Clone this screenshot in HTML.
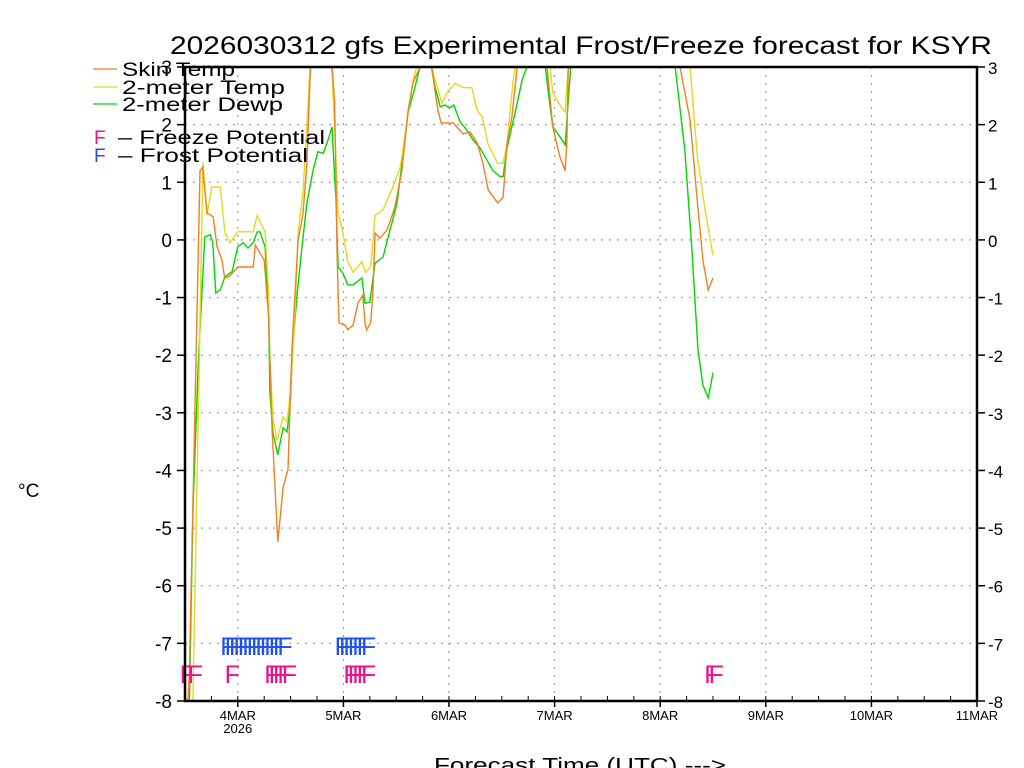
<!DOCTYPE html>
<html><head><meta charset="utf-8"><style>
html,body{margin:0;padding:0;background:#fff;}
svg{display:block;font-family:"Liberation Sans",sans-serif;}
</style></head><body>
<svg id="chart" width="1024" height="768">
<text x="170" y="54" font-size="25" textLength="822" lengthAdjust="spacingAndGlyphs">2026030312 gfs Experimental Frost/Freeze forecast for KSYR</text>
<g id="grid"></g>
<g id="series" clip-path="url(#plotclip)"></g>
<g id="markers"></g>
<g id="axes"></g>
<defs><clipPath id="plotclip"><rect x="185" y="67" width="792" height="634"/></clipPath></defs>
<g>
 <g><line x1="93" y1="69" x2="117" y2="69" stroke="#f08020" stroke-width="1.3"/><text x="122" y="76" font-size="19" textLength="113" lengthAdjust="spacingAndGlyphs">Skin Temp</text></g>
 <g><line x1="93" y1="87" x2="117" y2="87" stroke="#e6d820" stroke-width="1.3"/><text x="122" y="94" font-size="19" textLength="163" lengthAdjust="spacingAndGlyphs">2-meter Temp</text></g>
 <g><line x1="93" y1="104" x2="117" y2="104" stroke="#00d800" stroke-width="1.3"/><text x="122" y="111" font-size="19" textLength="161" lengthAdjust="spacingAndGlyphs">2-meter Dewp</text></g>
 <g><text x="94" y="144" font-size="19" fill="#f0108a">F</text><text x="118" y="144" font-size="19" textLength="207" lengthAdjust="spacingAndGlyphs">– Freeze Potential</text></g>
 <g><text x="94" y="162" font-size="19" fill="#2050f0">F</text><text x="118" y="162" font-size="19" textLength="190" lengthAdjust="spacingAndGlyphs">– Frost Potential</text></g>
</g>
<text x="18" y="497" font-size="19">°C</text>
<text x="434" y="772" font-size="20" textLength="292" lengthAdjust="spacingAndGlyphs">Forecast Time (UTC) ---&gt;</text>
</svg>
<script>
const yTicks=[3,2,1,0,-1,-2,-3,-4,-5,-6,-7,-8];
const dayLabels=["4MAR","5MAR","6MAR","7MAR","8MAR","9MAR","10MAR","11MAR"];
const dayHours=[12,36,60,84,108,132,156,180];
const skinH=[0,1,3.4,4,5,6.4,7.3,8.4,9,10,12,15.5,16,18,19,19.3,19.8,21.1,22.3,23.4,24.3,25.7,26.8,27.7,28.4,29,33,34,34.3,34.6,35,36.4,37,38.2,39.3,40.4,40.9,41.3,42.2,42.7,43.2,44.3,45.9,47.7,49.3,50.7,51.8,53.4,56.1,56.8,57.5,58.2,61,63.2,64.8,66.4,67.7,68.9,71.1,72.3,73.2,74.3,75.5,82.3,83,83.6,85.2,86.4,86.8,87.1,88,111,112.5,114.8,116.4,117.7,118.9,120];
const skinV=[-9,-7.5,1.2,1.26,0.47,0.4,-0.12,-0.35,-0.66,-0.64,-0.47,-0.47,-0.09,-0.35,-1.34,-2.1,-3.3,-5.24,-4.3,-3.98,-1.9,0,0.43,1.33,2.8,3.5,3.5,2.4,1.1,-0.35,-1.44,-1.48,-1.56,-1.48,-1.1,-0.96,-1.44,-1.56,-1.44,-0.92,0.12,0.03,0.17,0.57,1.2,2.25,2.72,3,3,2.6,2.25,2.03,2.03,1.84,1.87,1.68,1.33,0.87,0.64,0.74,1.68,2.13,3,3,2.43,1.96,1.44,1.2,1.73,2.95,3.5,3.5,3,2.08,0.69,-0.35,-0.87,-0.66];
const tempH=[0,1.8,4.1,5,6.1,8,9.1,10.2,12,15.5,16.4,18.2,19,19.3,20,20.9,22.3,23.2,23.9,25,25.7,26.8,27.7,28.4,29,33,34,34.8,35.9,37,38.2,40.2,41.1,42.2,43.2,45,47,48.9,50.5,51.8,53.4,56,58.4,59.5,61.4,63.2,65.2,66.4,67.6,68.9,71.1,72.3,73.2,74.5,75.5,82.3,83,83.6,85.2,86.4,87.1,88,112,114.8,116.4,118.2,120];
const tempV=[-9,-8,1.35,0.43,0.92,0.92,0.12,-0.05,0.14,0.14,0.42,0.14,-0.92,-2.08,-3.1,-3.47,-3.07,-3.16,-2.66,-1.27,0.12,0.81,1.96,3,3.5,3.5,1.96,0.47,0.12,-0.38,-0.56,-0.38,-0.56,-0.47,0.43,0.52,0.87,1.26,2.08,2.77,3.2,3,2.37,2.55,2.72,2.64,2.64,2.25,2.13,1.65,1.33,1.33,1.68,2.72,3.2,3.2,3,2.55,2.34,2.22,3,3.5,3.5,3,1.47,0.52,-0.27];
const dewH=[0,1,1.8,3,4.5,5.7,6.3,7,8,9.1,10.7,12,13.2,14.3,15.5,16.4,17,18.2,19,19.3,20,21.1,22.3,23.2,23.9,24.5,25.5,26.6,27.7,29.1,30.2,31.4,32.5,33.4,34,34.3,34.8,35.9,37,38.2,40.2,40.9,42,43.2,45,46.6,48.2,49.5,50.7,52.3,53.4,56,56.8,58,59.1,60.2,61.1,62.5,64,65.5,67,68.6,70,71.6,72.3,73.2,75.5,76.6,77.7,81.9,82.5,83.6,85.2,86.4,86.8,87.5,88,110,111.4,113.6,115.2,116.6,117.7,118.9,119.4,120];
const dewV=[-9,-8,-4.7,-2.17,0.05,0.09,-0.03,-0.92,-0.87,-0.64,-0.55,-0.12,-0.05,-0.14,-0.05,0.14,0.14,-0.12,-1.27,-2.66,-3.35,-3.73,-3.26,-3.33,-2.83,-1.86,-0.92,-0.12,0.64,1.2,1.53,1.5,1.73,1.96,1.1,0.74,-0.47,-0.58,-0.78,-0.78,-0.66,-1.1,-1.08,-0.4,-0.3,0.17,0.64,1.44,2.2,2.66,3,3,2.66,2.31,2.34,2.29,2.34,2.05,1.91,1.73,1.6,1.39,1.2,1.1,1.1,1.6,2.37,2.77,3,3,2.6,1.96,1.79,1.65,2.08,2.83,3.5,3.5,3,1.56,-0.17,-1.91,-2.52,-2.74,-2.55,-2.3];
const frostHours=[8,9,10,11,12,13,14,15,16,17,18,19,20,21,34,35,36,37,38,39,40];
const freezeHours=[-1.2,0.6,9,18,19,20,21,22,36,37,38,39,40,118,119];

const NS="http://www.w3.org/2000/svg";
const X0=185,X1=977,Y0=67,Y1=701,HMAX=180,VMIN=-8,VMAX=3;
const xs=h=>X0+(h/HMAX)*(X1-X0);
const ys=v=>Y0+(VMAX-v)/(VMAX-VMIN)*(Y1-Y0);
function mk(tag,attrs,parent){const e=document.createElementNS(NS,tag);for(const k in attrs)e.setAttribute(k,attrs[k]);parent.appendChild(e);return e;}
const grid=document.getElementById('grid'),axes=document.getElementById('axes'),series=document.getElementById('series'),markers=document.getElementById('markers');
yTicks.forEach(v=>{
 const y=ys(v);
 if(v<VMAX&&v>VMIN){const g=mk('line',{x1:X0,x2:X1,y1:y,y2:y,stroke:'#a0a0a0','stroke-width':1.2,'stroke-dasharray':'2,6'},grid);
 
 }
 mk('line',{x1:X0-8,x2:X0,y1:y,y2:y,stroke:'#000','stroke-width':1.5},axes);
 mk('line',{x1:X1,x2:X1+8,y1:y,y2:y,stroke:'#000','stroke-width':1.5},axes);
 const t=mk('text',{x:X0-13,y:y+7,'font-size':19,'text-anchor':'end'},axes);t.textContent=v;
 
 
 const t2=mk('text',{x:X1+11,y:y+7,'font-size':17},axes);t2.textContent=v;
 
 
});
dayHours.forEach((h,i)=>{
 const x=xs(h);
 if(h<HMAX){const g=mk('line',{x1:x,x2:x,y1:Y0,y2:Y1,stroke:'#a0a0a0','stroke-width':1.2,'stroke-dasharray':'2,6'},grid);
 
 }
 mk('line',{x1:x,x2:x,y1:Y1,y2:Y1+6,stroke:'#000','stroke-width':1.5},axes);
 const t=mk('text',{x:x,y:Y1+19,'font-size':13,'text-anchor':'middle'},axes);t.textContent=dayLabels[i];
 
 
});
for(let h=6;h<HMAX;h+=6){mk('line',{x1:xs(h),x2:xs(h),y1:Y1,y2:Y1-5,stroke:'#000','stroke-width':1},axes);}
const yr=mk('text',{x:xs(12),y:Y1+32,'font-size':13,'text-anchor':'middle'},axes);yr.textContent='2026';


const frame=mk('rect',{x:X0,y:Y0,width:X1-X0,height:Y1-Y0,fill:'none',stroke:'#000','stroke-width':2.5},axes);


function line(H,V,color,name){
 const d=H.map((h,i)=>(i?'L':'M')+xs(h).toFixed(1)+','+ys(V[i]).toFixed(1)).join('');
 const p=mk('path',{d:d,fill:'none',stroke:color,'stroke-width':1.4},series);
 
 
}
line(dewH,dewV,'#00d800','dewpoint-line');
line(tempH,tempV,'#e6d820','2m-temp-line');
line(skinH,skinV,'#f08020','skin-temp-line');
frostHours.forEach(h=>{
 const t=mk('text',{x:xs(h),y:655,'font-size':25,fill:'#2050f0'},markers);t.textContent='F';
 
 
});
freezeHours.forEach(h=>{
 const t=mk('text',{x:xs(h),y:683,'font-size':25,fill:'#f0108a'},markers);t.textContent='F';
 
 
});
</script>
</body></html>
